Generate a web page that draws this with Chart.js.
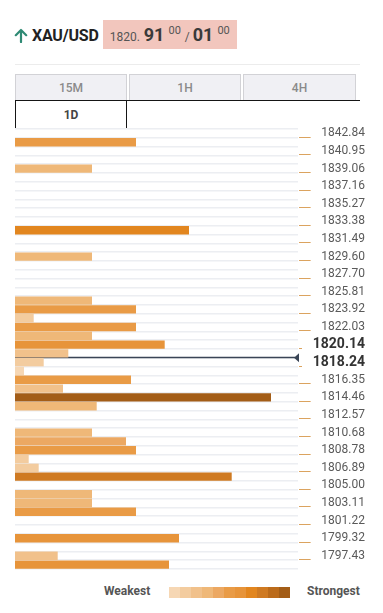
<!DOCTYPE html>
<html>
<head>
<meta charset="utf-8">
<script src="https://cdn.jsdelivr.net/npm/chart.js@4.4.0/dist/chart.umd.min.js"></script>
<style>
  html, body { margin:0; padding:0; background:#fff; width:383px; height:613px; overflow:hidden; font-family: Roboto, "Noto Sans", sans-serif; }
  .abs { position:absolute; }
  #quoteBox { left:103px; top:20px; width:134px; height:29px; background:#f2c6bd; }
  #headRow { left:32px; top:26px; height:18px; line-height:18px; display:flex; align-items:baseline; white-space:nowrap; }
  #sym { font-size:16px; font-weight:700; color:#222; letter-spacing:-0.2px; }
  .qs { font-size:12px; color:#555; }
  .qb { font-size:18px; font-weight:700; color:#3a3a3a; }
  .qsup { font-size:11px; color:#555; position:relative; top:-7px; }
  #sep { left:15px; top:64px; width:345px; height:1px; background:#ececec; }
  .tab { box-sizing:border-box; height:27px; top:74px; background:#f0f0f4; border:1px solid #d2d2d6; border-bottom:none;
         font-size:12px; font-weight:500; color:#8a8a8a; text-align:center; line-height:27px; }
  #tabLine { left:15px; top:100px; width:345px; height:1px; background:#151515; }
  #tabActive { box-sizing:border-box; left:15px; top:101px; width:112px; height:28px; border-left:1px solid #151515; border-right:1px solid #151515;
               background:#fff; font-size:12px; font-weight:700; color:#444; text-align:center; line-height:28px; }
  #chartWrap { left:15px; top:119px; width:350px; height:456px; }
  #legWeak { left:104px; top:583px; font-size:12px; font-weight:700; color:#555; line-height:16px; }
  #legStrong { left:307px; top:583px; font-size:12px; font-weight:700; color:#555; line-height:16px; }
  #legBar { left:169px; top:587px; height:11px; display:flex; }
  #legBar div { width:11px; height:11px; }
</style>
</head>
<body>
<svg class="abs" style="left:14px;top:27px" width="14" height="16" viewBox="0 0 14 16">
  <path d="M7 15 V3 M1.8 8.2 L7 3 L12.2 8.2" fill="none" stroke="#2f8a74" stroke-width="2.2" stroke-linecap="round" stroke-linejoin="round"/>
</svg>
<div id="quoteBox" class="abs"></div>
<div id="headRow" class="abs">
  <span id="sym">XAU/USD</span>
  <span class="qs" style="margin-left:11px">1820.</span>
  <span class="qb" style="margin-left:4px">91</span>
  <span class="qsup" style="margin-left:4px">00</span>
  <span class="qs" style="margin-left:4px">/</span>
  <span class="qb" style="margin-left:3px">01</span>
  <span class="qsup" style="margin-left:4px">00</span>
</div>
<div id="sep" class="abs"></div>
<div class="abs tab" style="left:15px;width:112px">15M</div>
<div class="abs tab" style="left:129px;width:112px">1H</div>
<div class="abs tab" style="left:243px;width:113px">4H</div>
<div id="tabLine" class="abs"></div>
<div id="tabActive" class="abs">1D</div>
<div id="chartWrap" class="abs"><canvas id="c"></canvas></div>
<div id="legWeak" class="abs">Weakest</div>
<div id="legBar" class="abs"></div>
<div id="legStrong" class="abs">Strongest</div>

<script>
// Price levels shown on the right axis (one every second row)
const levels = ['1842.84','1840.95','1839.06','1837.16','1835.27','1833.38','1831.49','1829.60','1827.70',
  '1825.81','1823.92','1822.03','1820.14','1818.24','1816.35','1814.46','1812.57','1810.68','1808.78',
  '1806.89','1805.00','1803.11','1801.22','1799.32','1797.43'];

// Confluence strength per row (top to bottom, 50 rows)
const strength = [0,121,0,0,77,0,0,0,0,0,0,174,0,0,77,0,0,0,0,77,121,18.7,121,77,149.7,53.3,28.7,9,116,48,
  256,81.7,0,0,77,111,121,13.7,23.7,216.7,0,77,77,121,0,0,164,0,42.7,154];

// Price of the horizontal marker line
const priceLine = 1819.19;

// Strength colour scale (weakest -> strongest)
const palette = ['#f6d7b4','#f3cc9f','#f1c18b','#efb878','#eca862','#e99b46','#e7943a','#e2861f','#cf7a22','#bb6b1b','#a35d17'];

const topPrice = parseFloat(levels[0]);
const rowStep = (topPrice - parseFloat(levels[levels.length - 1])) / (2 * (levels.length - 1));
const rowLabels = strength.map((_, i) => i % 2 === 0 ? levels[i / 2] : (topPrice - rowStep * i).toFixed(2));
const maxStrength = Math.max(...strength);

const isBoldLevel = k => Math.abs(parseFloat(levels[k]) - priceLine) < rowStep * 1.5;
const tickFont = i => (i % 2 === 0 && isBoldLevel(i / 2))
  ? { family: 'Roboto', size: 14, weight: 'bold' }
  : { family: 'Roboto', size: 12, weight: 'normal' };

document.getElementById('legBar').innerHTML = palette.map(c => '<div style="background:' + c + '"></div>').join('');

const markPlugin = {
  id: 'marks',
  beforeDatasetsDraw(chart) {
    const y = chart.scales.y, a = chart.chartArea, ctx = chart.ctx;
    const py = Math.round(y.getPixelForValue((topPrice - priceLine) / rowStep + 0.5)) - 0.5;
    ctx.save();
    ctx.strokeStyle = '#3a4556';
    ctx.lineWidth = 1.3;
    ctx.beginPath(); ctx.moveTo(a.left, py); ctx.lineTo(a.right - 3, py); ctx.stroke();
    ctx.restore();
  },
  afterDatasetsDraw(chart) {
    const y = chart.scales.y, a = chart.chartArea, ctx = chart.ctx;
    const py = y.getPixelForValue((topPrice - priceLine) / rowStep + 0.5);
    ctx.save();
    ctx.fillStyle = '#3a4556';
    ctx.beginPath();
    ctx.moveTo(a.right - 4, py);
    ctx.lineTo(a.right + 1, py - 4.5);
    ctx.lineTo(a.right + 1, py + 4.5);
    ctx.closePath(); ctx.fill();
    // level tick lines
    const widths = levels.map((lv, k) => {
      const f = tickFont(2 * k);
      ctx.font = f.weight + ' ' + f.size + 'px ' + f.family;
      return ctx.measureText(lv).width;
    });
    const right = y.left + y.options.ticks.padding + Math.max(...widths);
    ctx.strokeStyle = '#dba35f';
    ctx.lineWidth = 1;
    levels.forEach((lv, k) => {
      const ly = Math.round(y.getPixelForValue(2 * k + 0.5)) - 0.5;
      ctx.beginPath(); ctx.moveTo(a.right + 1, ly); ctx.lineTo(right - widths[k] - 2, ly); ctx.stroke();
    });
    ctx.restore();
  }
};

new Chart(document.getElementById('c'), {
  type: 'bar',
  data: {
    labels: rowLabels,
    datasets: [{
      data: strength,
      backgroundColor: c => palette[Math.round((c.raw || 0) / maxStrength * 10)],
      borderWidth: 0,
      barPercentage: 0.95,
      categoryPercentage: 1
    }]
  },
  options: {
    indexAxis: 'y',
    responsive: true,
    maintainAspectRatio: false,
    animation: false,
    layout: { padding: { top: 10, bottom: 6, left: 0, right: 0 } },
    plugins: { legend: { display: false }, tooltip: { enabled: false } },
    scales: {
      x: { display: false, min: 0, max: 283 },
      y: {
        position: 'right',
        border: { display: false },
        grid: { color: '#eceef2', lineWidth: 1.5, drawTicks: false },
        ticks: {
          autoSkip: false,
          padding: 6,
          crossAlign: 'far',
          color: c => (c.index % 2 === 0 && isBoldLevel(c.index / 2)) ? '#333' : '#5a5a5a',
          font: c => tickFont(c.index),
          callback: (v, i) => i % 2 === 0 ? levels[i / 2] : ''
        },
        afterFit: s => { s.width = 67; s.paddingTop = 0; s.paddingBottom = 0; }
      }
    }
  },
  plugins: [markPlugin]
});
</script>
</body>
</html>
